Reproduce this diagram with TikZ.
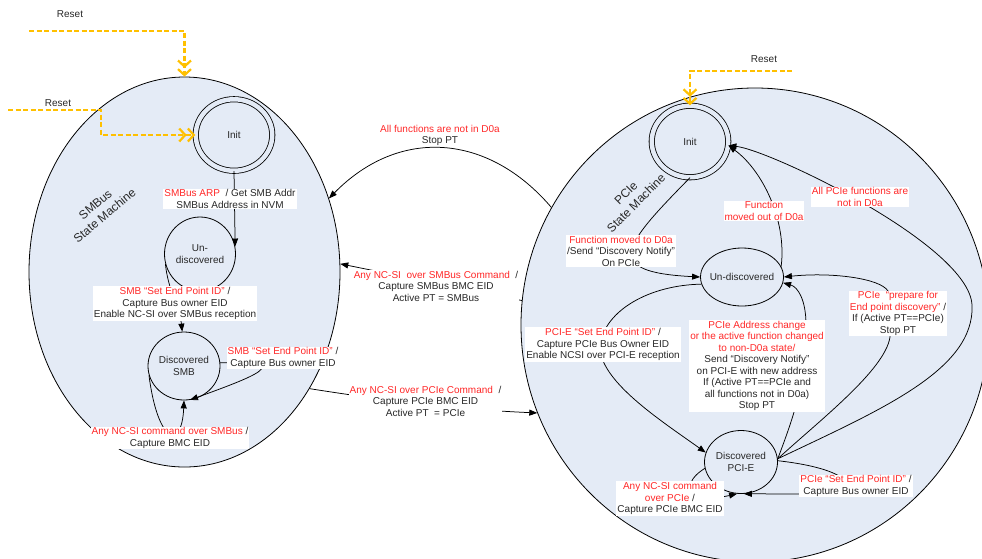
\documentclass[tikz,border=0pt]{standalone}
\usepackage{fontspec}
\setmainfont{Liberation Sans}
\usetikzlibrary{arrows.meta,shapes.geometric}
\definecolor{bgfill}{RGB}{228,235,246}
\definecolor{redtxt}{RGB}{255,40,40}
\definecolor{txt}{RGB}{40,40,40}
\definecolor{resetc}{RGB}{255,192,0}
\newcommand{\redt}[1]{\textcolor{redtxt}{#1}}
\begin{document}
\begin{tikzpicture}[x=1pt,y=-1pt,
  every node/.style={font=\fontsize{10}{11.5}\selectfont, text=txt},
  machine/.style={ellipse, draw=black, line width=0.8pt, fill=bgfill, inner sep=0pt},
  state/.style={ellipse, draw=black, line width=0.8pt, inner sep=0pt},
  initstate/.style={state, double=bgfill, double distance=4.5pt},
  lbl/.style={align=center, inner sep=1pt},
  wlbl/.style={lbl, fill=white},
  title/.style={align=center, inner sep=0pt, font=\fontsize{12}{14.5}\selectfont},
  arr/.style={draw=black, line width=0.75pt, -{Triangle[length=8pt,width=6pt]}},
  resetline/.style={draw=resetc, line width=2.2pt, dash pattern=on 5pt off 2.5pt,
    -{Straight Barb[length=6pt,width=13pt]Straight Barb[length=6pt,width=13pt]}}
]
\useasboundingbox (0,0) rectangle (982,558);
\clip (0,0) rectangle (982,558);

% state machines
\node[machine, minimum width=311pt, minimum height=390pt] (LSM) at (184.5,272) {};
\node[machine, minimum width=468pt, minimum height=474pt] (RSM) at (755,325) {};

% states
\node[initstate, minimum width=76.5pt, minimum height=71.5pt, label={center:Init}] (LInit) at (234,135) {};
\node[state, minimum width=71pt, minimum height=74pt, label={[align=center]center:Un-\\discovered}] (LUnd) at (200,254) {};
\node[state, minimum width=72pt, minimum height=68pt, label={[align=center]center:Discovered\\SMB}] (LDisc) at (184,366) {};
\node[initstate, minimum width=76.5pt, minimum height=71.5pt, label={center:Init}] (RInit) at (690,141.5) {};
\node[state, minimum width=83pt, minimum height=58pt, label={center:Un-discovered}] (RUnd) at (742,277) {};
\node[state, minimum width=73pt, minimum height=63pt, label={[align=center]center:Discovered\\PCI-E}] (RDisc) at (741,462) {};

% titles
\node[title, rotate=40] (LTitle) at (100,210) {SMBus\\State Machine};
\node[title, rotate=45] (RTitle) at (631,198) {PCIe\\State Machine};

% resets
\node[lbl] (LReset1) at (70,14) {Reset};
\coordinate (r1) at (29,31);
\draw[resetline] (r1) -| (LSM.north);
\node[lbl] (LReset2) at (58,103) {Reset};
\coordinate (r2) at (8,110);
\draw[resetline] (r2) -| (101,135) -- (LInit.west);
\node[lbl] (RReset) at (764,59) {Reset};
\coordinate (r3) at (792,71);
\draw[resetline] (r3) -| (RInit.north);

% left connectors
\draw[arr] (LInit.south) -- (LUnd.12);
\draw[arr] (LUnd.196) .. controls (168,290) and (180,310) .. (LDisc.93);
\draw[arr] (LDisc.5) .. controls (300,360) and (250,378) .. (LDisc.-80);
\draw[arr] (LDisc.195) .. controls (158,445) and (182,450) .. (LDisc.-90);

% cross connectors
\draw[arr] (RSM.150) .. controls (488,133) and (399,127) .. (LSM.27);
\draw[arr] (RSM.174) -- (LSM.3);
\draw[arr] (LSM.-43) .. controls (388,401) and (457,409.4) .. (RSM.202);

% right connectors
\draw[arr] (RInit.-90) .. controls (624,245) and (600,272) .. (RUnd.180);
\draw[arr] (RUnd.15) .. controls (787,220) and (762,170) .. (RInit.-6);
\draw[arr] (RDisc.5) .. controls (880,410) and (975,370) .. (972,305) .. controls (969,245) and (770,150) .. (RInit.-6);
\draw[arr] (RDisc.5) .. controls (820,420) and (885,370) .. (890,337) -- (888,291) .. controls (880,278) and (830,272) .. (RUnd.0);
\draw[arr] (RDisc.5) .. controls (786,437) and (792,420) .. (796,405) -- (806,325) .. controls (806,300) and (798,287) .. (RUnd.-8);
\draw[arr] (RUnd.190) .. controls (650,285) and (605,310) .. (600,345) .. controls (598,380) and (660,420) .. (RDisc.165);
\draw[arr] (RDisc.190) .. controls (675,487) and (697,503) .. (RDisc.-97);
\draw[arr] (RDisc.2) .. controls (860,470) and (860,494) .. (820,494) -- (RDisc.-85);

% labels
\node[wlbl] (lARP) at (230,199) {\redt{SMBus ARP}\ \ / Get SMB Addr\\SMBus Address in NVM};
\node[wlbl] (lSEP) at (175,303.5) {\redt{SMB “Set End Point ID”} /\\Capture Bus owner EID\\Enable NC-SI over SMBus reception};
\node[wlbl] (lSEP2) at (283,358) {\redt{SMB “Set End Point ID”} /\\Capture Bus owner EID};
\node[wlbl] (lAny) at (170,438) {\redt{Any NC-SI command over SMBus} /\\Capture BMC EID};
\node[lbl] (lAllF) at (440,135.5) {\redt{All functions are not in D0a}\\Stop PT};
\node[wlbl] (lSMBc) at (436,286) {\redt{Any NC-SI\ \ over SMBus Command}\ \ /\\Capture SMBus BMC EID\\Active PT = SMBus};
\node[wlbl] (lPCIc) at (425.5,401) {\redt{Any NC-SI over PCIe Command}\ \ /\\Capture PCIe BMC EID\\Active PT\ \ = PCIe};
\node[wlbl] (lMv) at (621,251) {\redt{Function moved to D0a}\\/Send “Discovery Notify”\\On PCIe};
\node[wlbl] (lMvOut) at (764,211) {\redt{Function}\\\redt{moved out of D0a}};
\node[wlbl] (lAllP) at (860,197) {\redt{All PCIe functions are}\\\redt{not in D0a}};
\node[wlbl] (lPrep) at (898,313.5) {\redt{PCIe\ \ “prepare for}\\\redt{End point discovery”} /\\If (Active PT==PCIe)\\Stop PT};
\node[wlbl] (lAddr) at (757,366) {\redt{PCIe Address change}\\\redt{or the active function changed}\\\redt{to non-D0a state/}\\Send “Discovery Notify”\\on PCI-E with new address\\If (Active PT==PCIe and\\all functions not in D0a)\\Stop PT};
\node[wlbl] (lPSEP) at (603,344.5) {\redt{PCI-E “Set End Point ID”} /\\Capture PCIe Bus Owner EID\\Enable NCSI over PCI-E reception};
\node[wlbl] (lPAny) at (670,498.5) {\redt{Any NC-SI command}\\\redt{over PCIe} /\\Capture PCIe BMC EID};
\node[wlbl] (lPSEP2) at (856,486) {\redt{PCIe “Set End Point ID”} /\\Capture Bus owner EID};
\end{tikzpicture}
\end{document}
